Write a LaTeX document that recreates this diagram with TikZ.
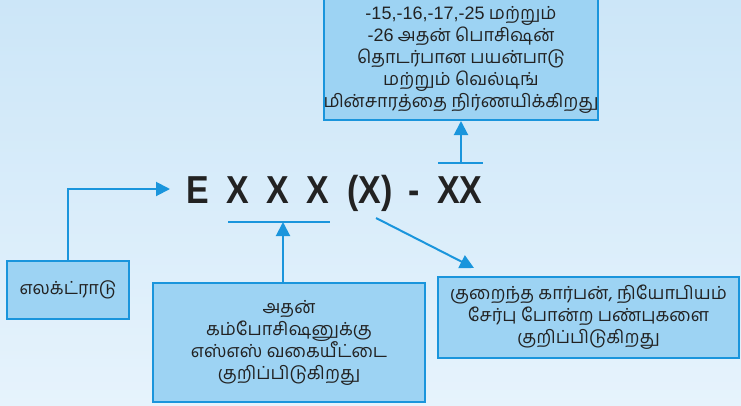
\documentclass[tikz,border=0pt]{standalone}
\usepackage{fontspec}
\setmainfont{Liberation Sans}
\newfontfamily\tamil[Script=Tamil]{Hind Madurai}
\newfontfamily\latn{Liberation Sans}
\usetikzlibrary{arrows.meta}
\definecolor{bgtop}{HTML}{CCE6F8}
\definecolor{bgbot}{HTML}{E6F3FC}
\definecolor{boxfill}{HTML}{9DD3F3}
\definecolor{boxline}{HTML}{1A95DC}
\definecolor{txt}{HTML}{222222}
\newcommand\narrowtxt[1]{\scalebox{0.87}[1]{#1}}
\tikzset{
  infobox/.style={draw=boxline, fill=boxfill, line width=2pt, inner sep=0pt,
    text=txt, align=center, font=\tamil\fontsize{18}{22}\selectfont},
  conn/.style={draw=boxline, line width=2pt},
  tip/.style={-{Triangle[length=14pt,width=14pt]}},
  codepart/.style={anchor=base west, inner sep=0pt, text=txt,
    font=\latn\bfseries\fontsize{39}{39}\selectfont}
}
\begin{document}
\begin{tikzpicture}[x=1pt,y=-1pt]
\shade[top color=bgtop, bottom color=bgbot] (0,0) rectangle (741,405);
\useasboundingbox (0,0) rectangle (741,405);

\node[infobox, minimum width=270pt, minimum height=121pt] (top) at (461,59.5)
  {{\latn -15,-16,-17,-25} மற்றும்\\{\latn -26} அதன்  பொசிஷன்\\தொடர்பான பயன்பாடு\\மற்றும் வெல்டிங்\\மின்சாரத்தை நிர்ணயிக்கிறது};
\node[infobox, minimum width=122pt, minimum height=58pt] (elec) at (68,290) {எலக்ட்ராடு};
\node[infobox, minimum width=272pt, minimum height=119pt] (comp) at (289,342.5)
  {அதன்\\கம்போசிஷனுக்கு\\எஸ்எஸ் வகையீட்டை\\குறிப்பிடுகிறது};
\node[infobox, minimum width=301pt, minimum height=81pt] (prop) at (588.5,317.5)
  {குறைந்த கார்பன், நியோபியம்\\சேர்பு போன்ற பண்புகளை\\குறிப்பிடுகிறது};

\node[codepart] (cE) at (186,203) {\narrowtxt{E}};
\node[codepart] (cX1) at (226,203) {\narrowtxt{X}};
\node[codepart] (cX2) at (266,203) {\narrowtxt{X}};
\node[codepart] (cX3) at (306,203) {\narrowtxt{X}};
\node[codepart] (cX4) at (347,203) {\narrowtxt{(X)}};
\node[codepart] (cdash) at (408,203) {\narrowtxt{-}};
\node[codepart] (cXX) at (437,203) {\narrowtxt{XX}};

\coordinate (ul1) at (228,222);
\coordinate (ul2) at (330,222);
\coordinate (ol1) at (438,163);
\coordinate (ol2) at (483,163);
\coordinate (olm) at (461,163);
\coordinate (ulm) at (283,222);
\coordinate (ein) at (170,189);
\coordinate (pst) at (376,218);
\coordinate (pend) at (474,268);

\draw[conn] (ol1) -- (ol2);
\draw[conn, tip] (olm) -- (olm |- top.south);
\draw[conn] (ul1) -- (ul2);
\draw[conn, tip] (ulm |- comp.north) -- (ulm);
\draw[conn, tip] (elec.north) |- (ein);
\draw[conn, tip] (pst) -- (pend);
\end{tikzpicture}
\end{document}
